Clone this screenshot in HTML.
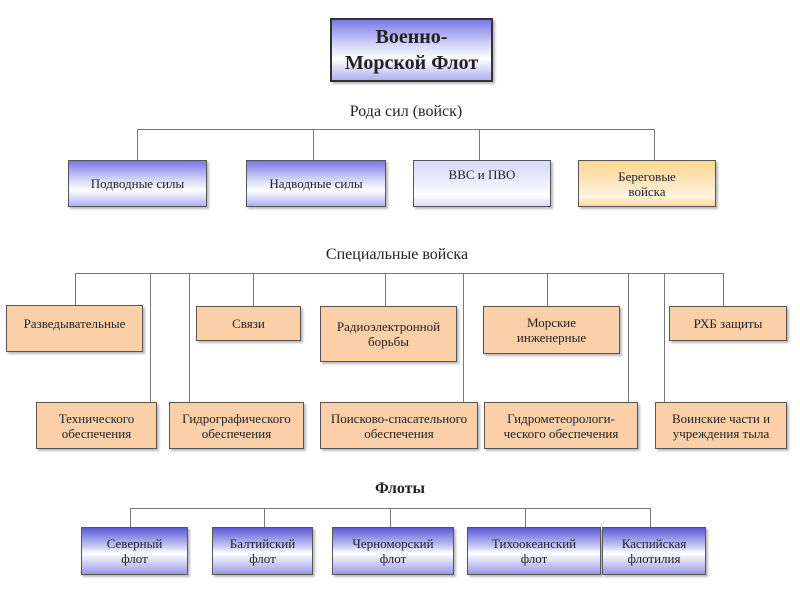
<!DOCTYPE html>
<html><head><meta charset="utf-8"><style>
body{margin:0;width:800px;height:600px;background:#fff;position:relative;overflow:hidden;font-family:"Liberation Serif",serif;}
.b{position:absolute;box-sizing:border-box;border:1px solid #555;display:flex;align-items:center;justify-content:center;text-align:center;font-size:13px;line-height:15px;color:#222;box-shadow:2px 2px 2px #bbb;}
.bl{background:linear-gradient(#7878e6,#c8c8f6 35%,#fff 65%,#b0b0f0);}
.lb{background:linear-gradient(#d8d8fa,#eeeefe 50%,#fff 75%,#dcdcf8);}
.or{background:#fbd0a8;}
.og{background:linear-gradient(#fbd890,#fde6c0 50%,#fff5e0 80%,#fbd890);}
.fl{background:linear-gradient(#5a5ad8,#c8c8f4 40%,#fff 55%,#9a9aec);}
.h{position:absolute;width:800px;text-align:center;font-size:16px;color:#222;}
.l{position:absolute;background:#777;}
</style></head><body>
<div class="b bl" style="left:330px;top:18px;width:163px;height:64px;font-size:20px;line-height:26px;font-weight:bold;border:2px solid #333;">Военно-<br>Морской Флот</div>
<div class="h" style="left:6px;top:103px;">Рода сил (войск)</div>
<div class="l" style="left:137px;top:129px;width:518px;height:1px"></div>
<div class="l" style="left:137px;top:129px;width:1px;height:31px"></div>
<div class="l" style="left:313px;top:129px;width:1px;height:31px"></div>
<div class="l" style="left:479px;top:129px;width:1px;height:31px"></div>
<div class="l" style="left:654px;top:129px;width:1px;height:31px"></div>
<div class="b bl" style="left:68px;top:160px;width:139px;height:47px;">Подводные силы</div>
<div class="b bl" style="left:246px;top:160px;width:140px;height:47px;">Надводные силы</div>
<div class="b lb" style="left:413px;top:160px;width:138px;height:47px;align-items:flex-start;padding-top:6px;">ВВС и ПВО</div>
<div class="b og" style="left:578px;top:160px;width:138px;height:47px;">Береговые<br>войска</div>

<div class="h" style="left:-3px;top:246px;">Специальные войска</div>
<div class="l" style="left:75px;top:273px;width:649px;height:1px"></div>
<div class="l" style="left:75px;top:273px;width:1px;height:32px"></div>
<div class="l" style="left:150px;top:273px;width:1px;height:129px"></div>
<div class="l" style="left:189px;top:273px;width:1px;height:129px"></div>
<div class="l" style="left:253px;top:273px;width:1px;height:33px"></div>
<div class="l" style="left:385px;top:273px;width:1px;height:33px"></div>
<div class="l" style="left:463px;top:273px;width:1px;height:129px"></div>
<div class="l" style="left:547px;top:273px;width:1px;height:33px"></div>
<div class="l" style="left:628px;top:273px;width:1px;height:129px"></div>
<div class="l" style="left:664px;top:273px;width:1px;height:129px"></div>
<div class="l" style="left:723px;top:273px;width:1px;height:33px"></div>
<div class="b or" style="left:6px;top:305px;width:137px;height:47px;align-items:flex-start;padding-top:10px;">Разведывательные</div>
<div class="b or" style="left:196px;top:306px;width:105px;height:35px;">Связи</div>
<div class="b or" style="left:320px;top:306px;width:137px;height:56px;">Радиоэлектронной<br>борьбы</div>
<div class="b or" style="left:483px;top:306px;width:137px;height:48px;">Морские<br>инженерные</div>
<div class="b or" style="left:669px;top:306px;width:118px;height:35px;">РХБ защиты</div>
<div class="b or" style="left:36px;top:402px;width:121px;height:47px;">Технического<br>обеспечения</div>
<div class="b or" style="left:169px;top:402px;width:135px;height:47px;">Гидрографического<br>обеспечения</div>
<div class="b or" style="left:320px;top:402px;width:158px;height:47px;">Поисково-спасательного<br>обеспечения</div>
<div class="b or" style="left:484px;top:402px;width:154px;height:47px;">Гидрометеорологи-<br>ческого обеспечения</div>
<div class="b or" style="left:655px;top:402px;width:132px;height:47px;">Воинские части и<br>учреждения тыла</div>

<div class="h" style="left:0px;top:480px;font-weight:bold;">Флоты</div>
<div class="l" style="left:130px;top:508px;width:521px;height:1px"></div>
<div class="l" style="left:130px;top:508px;width:1px;height:19px"></div>
<div class="l" style="left:264px;top:508px;width:1px;height:19px"></div>
<div class="l" style="left:390px;top:508px;width:1px;height:19px"></div>
<div class="l" style="left:525px;top:508px;width:1px;height:19px"></div>
<div class="l" style="left:650px;top:508px;width:1px;height:19px"></div>
<div class="b fl" style="left:81px;top:527px;width:107px;height:48px;">Северный<br>флот</div>
<div class="b fl" style="left:212px;top:527px;width:101px;height:48px;">Балтийский<br>флот</div>
<div class="b fl" style="left:332px;top:527px;width:122px;height:48px;">Черноморский<br>флот</div>
<div class="b fl" style="left:467px;top:527px;width:134px;height:48px;">Тихоокеанский<br>флот</div>
<div class="b fl" style="left:602px;top:527px;width:104px;height:48px;">Каспийская<br>флотилия</div>
</body></html>
